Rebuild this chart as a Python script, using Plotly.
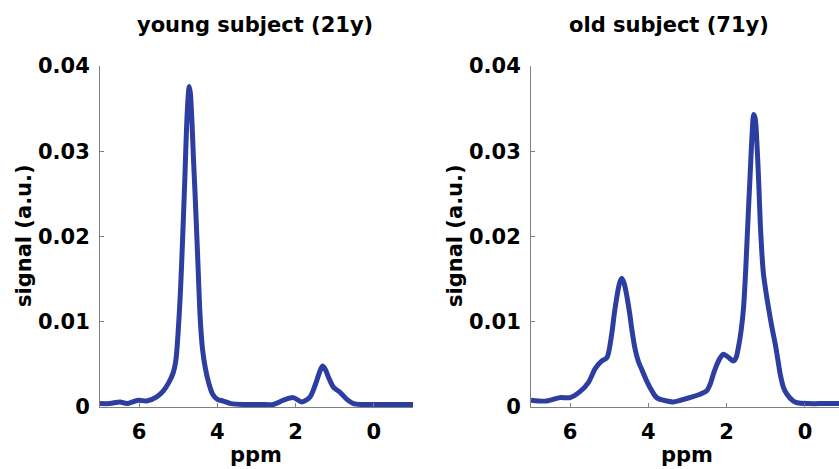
import plotly.graph_objects as go

# ---- data ----
young_ppm = [7.0, 6.75, 6.49, 6.32, 6.02, 5.81, 5.55, 5.38, 5.25, 5.13, 5.06, 5.00, 4.95, 4.91,
             4.87, 4.83, 4.79, 4.75, 4.72, 4.69, 4.65, 4.61, 4.57, 4.50, 4.44, 4.38, 4.31, 4.22,
             4.12, 4.00, 3.85, 3.65, 3.30, 2.90, 2.57, 2.31, 2.06, 1.84, 1.63, 1.46, 1.38, 1.31,
             1.24, 1.16, 1.03, 0.86, 0.69, 0.52, 0.30, -0.16, -0.60, -1.00]
young_signal = [0.0004, 0.0004, 0.0006, 0.0004, 0.0008, 0.0007, 0.0012, 0.0019, 0.0028, 0.0040,
                0.0055, 0.0090, 0.0130, 0.0172, 0.0220, 0.0270, 0.0325, 0.0362, 0.0376, 0.0368,
                0.0335, 0.0290, 0.0250, 0.0172, 0.0105, 0.0068, 0.0046, 0.0028, 0.0015, 0.0009,
                0.0007, 0.0004, 0.0003, 0.0003, 0.0003, 0.0008, 0.0011, 0.0006, 0.0012, 0.0031,
                0.0042, 0.0048, 0.0044, 0.0035, 0.0023, 0.0017, 0.0009, 0.0004, 0.0003, 0.0003,
                0.0003, 0.0003]

old_ppm = [7.0, 6.6, 6.26, 6.0, 5.75, 5.53, 5.36, 5.19, 5.06, 4.94, 4.87, 4.81, 4.74, 4.68, 4.62,
           4.55, 4.48, 4.42, 4.34, 4.26, 4.15, 4.04, 3.90, 3.79, 3.53, 3.36, 3.02, 2.68, 2.51,
           2.42, 2.33, 2.25, 2.16, 2.08, 1.95, 1.83, 1.76, 1.70, 1.63, 1.57, 1.52, 1.48, 1.44,
           1.40, 1.35, 1.31, 1.27, 1.23, 1.18, 1.14, 1.10, 1.06, 0.99, 0.93, 0.85, 0.76, 0.69,
           0.63, 0.55, 0.46, 0.30, 0.20, -0.10, -0.50, -1.00]
old_signal = [0.0008, 0.0007, 0.0011, 0.0011, 0.0018, 0.0029, 0.0045, 0.0054, 0.0058, 0.0085,
              0.0110, 0.0128, 0.0145, 0.0151, 0.0145, 0.0130, 0.0110, 0.0090, 0.0068, 0.0054,
              0.0042, 0.0030, 0.0018, 0.0011, 0.0007, 0.0006, 0.0010, 0.0015, 0.0019, 0.0027,
              0.0040, 0.0050, 0.0058, 0.0062, 0.0058, 0.0054, 0.0058, 0.0070, 0.0090, 0.0116,
              0.0155, 0.0195, 0.0235, 0.0273, 0.0320, 0.0343, 0.0338, 0.0312, 0.0262, 0.0214,
              0.0180, 0.0156, 0.0133, 0.0116, 0.0095, 0.0074, 0.0055, 0.0038, 0.0023, 0.0015,
              0.0007, 0.0005, 0.0004, 0.0004, 0.0004]

x_tickvals = [6, 4, 2, 0]
x_ticktext = ["6", "4", "2", "0"]
y_tickvals = [0, 0.01, 0.02, 0.03, 0.04]
y_ticktext = ["0", "0.01", "0.02", "0.03", "0.04"]

titles = ["young subject (21y)", "old subject (71y)"]
x_title = "ppm"
y_title = "signal (a.u.)"

# ---- styling ----
W, H = 839, 469
LINE_COLOR = "rgb(44,62,160)"
AXIS_COLOR = "#808080"
FONT = dict(family="DejaVu Sans", size=21, color="black", weight="bold")


def px_x(px):
    return px / W


def px_y(py):
    return 1 - py / H


fig = go.Figure()
fig.add_trace(go.Scatter(x=young_ppm, y=young_signal, mode="lines",
                         line=dict(color=LINE_COLOR, width=5, shape="spline", smoothing=0.8),
                         xaxis="x", yaxis="y", showlegend=False, hoverinfo="skip"))
fig.add_trace(go.Scatter(x=old_ppm, y=old_signal, mode="lines",
                         line=dict(color=LINE_COLOR, width=5, shape="spline", smoothing=0.8),
                         xaxis="x2", yaxis="y2", showlegend=False, hoverinfo="skip"))


def xax(domain, rng, anchor):
    return dict(domain=domain, range=rng, anchor=anchor, showline=True, linecolor=AXIS_COLOR,
                linewidth=1, ticks="inside", ticklen=4, tickcolor=AXIS_COLOR, tickwidth=1,
                tickvals=x_tickvals, ticktext=x_ticktext, tickfont=FONT, showgrid=False,
                zeroline=False, ticklabelstandoff=6, automargin=False)


def yax(domain, anchor):
    return dict(domain=domain, range=[0, 0.04], anchor=anchor, showline=True, linecolor=AXIS_COLOR,
                linewidth=1, ticks="inside", ticklen=4, tickcolor=AXIS_COLOR, tickwidth=1,
                tickvals=y_tickvals, ticktext=y_ticktext, tickfont=FONT, showgrid=False,
                zeroline=False, ticklabelstandoff=5, automargin=False)


ydom = [px_y(407), px_y(66)]
fig.update_layout(
    width=W, height=H, margin=dict(l=0, r=0, t=0, b=0, autoexpand=False),
    paper_bgcolor="white", plot_bgcolor="white",
    xaxis=xax([px_x(100), px_x(413)], [7, -1], "y"),
    yaxis=yax(ydom, "x"),
    xaxis2=xax([px_x(531), 1.0], [7, -0.87], "y2"),
    yaxis2=yax(ydom, "x2"),
)

ann = []
for cx, t in [(255, titles[0]), (669, titles[1])]:
    ann.append(dict(text=t, x=px_x(cx), y=px_y(25), xref="paper", yref="paper",
                    xanchor="center", yanchor="middle", showarrow=False, font=FONT))
for cx in [256, 687]:
    ann.append(dict(text=x_title, x=px_x(cx), y=px_y(455), xref="paper", yref="paper",
                    xanchor="center", yanchor="middle", showarrow=False, font=FONT))
for cx in [24, 455]:
    ann.append(dict(text=y_title, x=px_x(cx), y=px_y(236), xref="paper", yref="paper",
                    xanchor="center", yanchor="middle", textangle=-90, showarrow=False, font=FONT))
fig.update_layout(annotations=ann)

# remove the default page margin so the 839x469 figure fills the window exactly
page_fix = ("document.documentElement.style.overflow='hidden';"
            "document.body.style.margin='0';document.body.style.overflow='hidden';")
fig.write_html("out.html", post_script=page_fix, config={"displayModeBar": False})
